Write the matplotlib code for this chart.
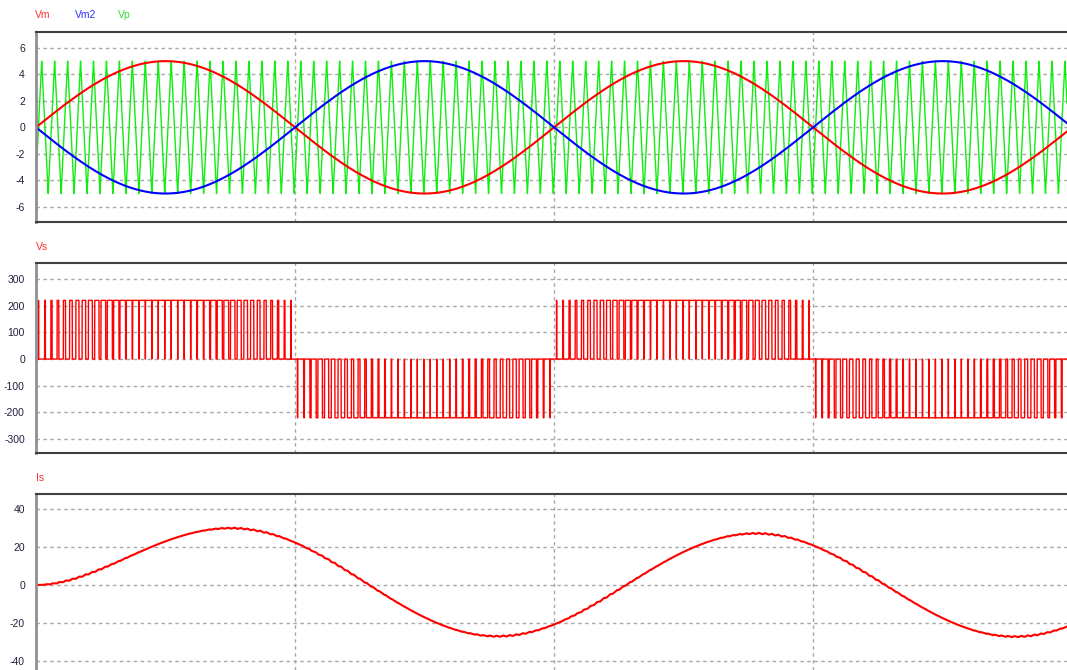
import numpy as np
import matplotlib.pyplot as plt

plt.rcParams['axes.unicode_minus'] = False

# circuit values (unipolar PWM inverter into an RL load)
f_ref = 50.0            # Hz, Vm / Vm2
amp_ref = 5.0
f_carrier = 2000.0      # Hz, Vp triangle
amp_carrier = 5.0
carrier_peak_t = 0.22e-3
v_dc = 220.0
r_load = 5.2
l_load = 0.0198
t_end = 0.0398
dt = 1e-6

top_ticks = [-6, -4, -2, 0, 2, 4, 6]
mid_ticks = [-300, -200, -100, 0, 100, 200, 300]
bot_ticks = [-40, -20, 0, 20, 40]
x_grid = [0.01, 0.02, 0.03]

# simulate
t = np.arange(0, t_end, dt)
vm = amp_ref * np.sin(2 * np.pi * f_ref * t)
vm2 = -vm
ph = ((t - carrier_peak_t) * f_carrier) % 1.0
vp = amp_carrier * (4 * np.abs(ph - 0.5) - 1)
vs = v_dc * ((vm > vp).astype(float) - (vm2 > vp).astype(float))

a = np.exp(-dt * r_load / l_load)
i_s = np.zeros_like(t)
for n in range(1, len(t)):
    i_s[n] = i_s[n - 1] * a + (1 - a) * vs[n - 1] / r_load

W, H = 1067, 670
fig = plt.figure(figsize=(W / 100, H / 100), dpi=100)


def px_axes(top, bottom):
    return fig.add_axes([36 / W, 1 - bottom / H, 1 - 36 / W, (bottom - top) / H])


def style(ax, ticks, ylim, show_bottom=True):
    ax.set_xlim(0, t_end)
    ax.set_ylim(*ylim)
    ax.set_yticks(ticks)
    ax.set_xticks(x_grid)
    ax.set_xticklabels([])
    ax.tick_params(axis='both', length=0)
    ax.tick_params(axis='y', pad=8, labelsize=7.5, labelcolor='#202040')
    ax.grid(True, color='#a8a8a8', linestyle=(0, (2.5, 2.5)), linewidth=1)
    ax.spines['right'].set_visible(False)
    ax.spines['left'].set_color('#909090')
    ax.spines['left'].set_linewidth(2)
    ax.spines['top'].set_color('#404040')
    ax.spines['top'].set_linewidth(1.5)
    ax.spines['bottom'].set_color('#404040')
    ax.spines['bottom'].set_linewidth(1.5)
    ax.spines['bottom'].set_visible(show_bottom)
    for lab in ax.get_yticklabels():
        lab.set_family(['Liberation Sans', 'DejaVu Sans'])


ax1 = px_axes(32, 222)
ax1.plot(t, vp, color='#10ee10', linewidth=1)
ax1.plot(t, vm, color='#ff0000', linewidth=1.5)
ax1.plot(t, vm2, color='#0000ff', linewidth=1.5)
style(ax1, top_ticks, (-7.15, 7.2))

ax2 = px_axes(263, 453)
ax2.plot(t, vs, color='#ff0000', linewidth=1)
style(ax2, mid_ticks, (-352, 360))

ax3 = px_axes(494, 670)
ax3.plot(t, i_s, color='#ff0000', linewidth=1.5)
style(ax3, bot_ticks, (-44.7, 47.9), show_bottom=False)

fam = ['Liberation Sans', 'DejaVu Sans']
fig.text(35 / W, 1 - 15 / H, 'Vm', color='#ff3030', fontsize=7.5, va='center', family=fam)
fig.text(75 / W, 1 - 15 / H, 'Vm2', color='#3030ff', fontsize=7.5, va='center', family=fam)
fig.text(118 / W, 1 - 15 / H, 'Vp', color='#30e030', fontsize=7.5, va='center', family=fam)
fig.text(36 / W, 1 - 247 / H, 'Vs', color='#ff3030', fontsize=7.5, va='center', family=fam)
fig.text(36 / W, 1 - 478 / H, 'Is', color='#ff3030', fontsize=7.5, va='center', family=fam)

fig.savefig('out.png', dpi=100)
